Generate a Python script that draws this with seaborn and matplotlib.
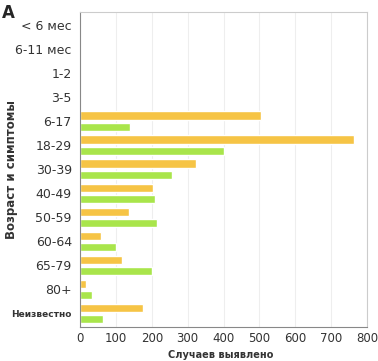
import pandas as pd
import seaborn as sns
import matplotlib.pyplot as plt

# === Data ===
categories = ["< 6 мес", "6-11 мес", "1-2", "3-5", "6-17", "18-29", "30-39",
              "40-49", "50-59", "60-64", "65-79", "80+", "Неизвестно"]
cases = [0, 0, 0, 0, 503, 763, 323, 204, 137, 58, 117, 17, 175]
symptoms = [0, 0, 0, 0, 139, 401, 256, 209, 214, 100, 200, 33, 64]
series = ["Случаи", "Симптомы"]
colors = ["#F6C445", "#A9E54B"]

df = pd.DataFrame({
    "age": categories * 2,
    "count": cases + symptoms,
    "series": [series[0]] * len(categories) + [series[1]] * len(categories),
})

sns.set_style("white")
plt.rcParams["font.family"] = ["Verdana", "DejaVu Sans"]

fig = plt.figure(figsize=(3.78, 3.61), dpi=100)
ax = fig.add_axes([0.212, 0.095, 0.759, 0.872])

sns.barplot(data=df, y="age", x="count", hue="series", order=categories,
            palette=colors, saturation=1, orient="h", width=0.95, gap=0.28,
            legend=False, ax=ax)

ax.set_xlim(0, 800)
ax.set_ylim(len(categories) - 0.45, -0.55)
ax.set_xticks(range(0, 801, 100))
ax.xaxis.grid(True, color="#eeeeee", linewidth=0.8)
ax.set_axisbelow(True)
ax.tick_params(axis="x", labelsize=8.5, colors="#333333", length=3, pad=1)
ax.tick_params(axis="y", labelsize=9, colors="#333333", length=0, pad=6)
for lbl in ax.get_yticklabels():
    if lbl.get_text() == "Неизвестно":
        lbl.set_fontsize(6.5)
        lbl.set_fontweight("bold")

for side in ["top", "right"]:
    ax.spines[side].set_color("#cccccc")
for side in ["left", "bottom"]:
    ax.spines[side].set_color("#888888")

ax.set_xlabel("")
ax.set_ylabel("")
fig.text(0.585, 0.018, "Случаев выявлено", fontsize=7, fontweight="bold",
         color="#333333", ha="center", va="center")
fig.text(0.03, 0.53, "Возраст и симптомы", fontsize=8.5, fontweight="bold",
         color="#333333", ha="center", va="center", rotation=90)
fig.text(0.005, 0.99, "A", fontsize=12, fontweight="bold", va="top", ha="left")

plt.savefig("out.png", dpi=100)
